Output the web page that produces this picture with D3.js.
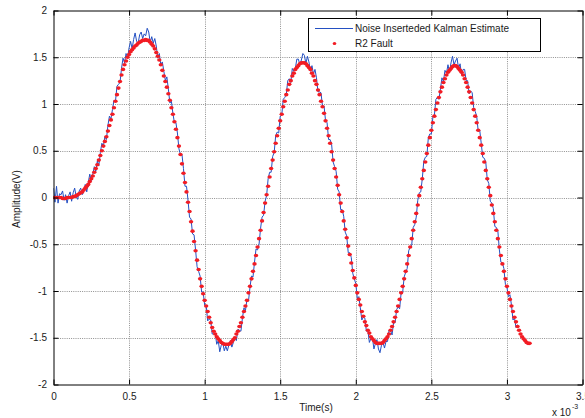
<!DOCTYPE html>
<html>
<head>
<meta charset="utf-8">
<script src="https://cdn.jsdelivr.net/npm/d3@7"></script>
<style>
  html, body { margin: 0; padding: 0; background: #fff; }
  svg { display: block; }
  text { font-family: "Liberation Sans", Arial, sans-serif; }
</style>
</head>
<body>
<svg id="chart" width="585" height="418"></svg>
<script>
// ---------------- data ----------------
const sampleInterval = 1e-5; // seconds between samples

const seriesNames = ["Noise Inserteded Kalman Estimate", "R2 Fault"];

// R2 Fault (red markers), one value per sample from t = 0
const r2Fault = [
  0,0,0,0,0,0,-0.01,-0.01,-0.01,0,
  0,0,0,0.01,0.01,0.02,0.03,0.04,0.05,0.06,
  0.08,0.10,0.12,0.14,0.17,0.20,0.23,0.27,0.31,0.35,
  0.40,0.45,0.50,0.55,0.60,0.65,0.71,0.77,0.83,0.89,
  0.96,1.03,1.10,1.17,1.24,1.31,1.37,1.42,1.46,1.50,
  1.53,1.56,1.58,1.60,1.62,1.63,1.65,1.66,1.67,1.68,
  1.68,1.69,1.68,1.68,1.66,1.64,1.62,1.59,1.55,1.51,
  1.47,1.42,1.36,1.30,1.24,1.18,1.11,1.04,0.96,0.89,
  0.81,0.73,0.64,0.55,0.46,0.36,0.26,0.16,0.06,-0.05,
  -0.15,-0.26,-0.36,-0.47,-0.57,-0.67,-0.77,-0.87,-0.95,-1.03,
  -1.10,-1.16,-1.22,-1.28,-1.34,-1.39,-1.43,-1.46,-1.49,-1.51,
  -1.53,-1.55,-1.56,-1.57,-1.57,-1.57,
  -1.57,-1.56,-1.54,-1.52,-1.50,-1.46,-1.43,-1.38,-1.34,-1.28,
  -1.22,-1.16,-1.10,-1.02,-0.95,-0.87,-0.79,-0.71,-0.62,-0.53,
  -0.44,-0.35,-0.25,-0.16,-0.06,0.03,0.12,0.22,0.31,0.40,
  0.49,0.58,0.66,0.74,0.82,0.89,0.97,1.03,1.10,1.15,
  1.21,1.25,1.30,1.33,1.37,1.39,1.41,1.43,1.44,1.44,
  1.44,1.43,1.41,1.39,1.37,1.33,1.30,1.25,1.21,1.15,
  1.10,1.03,0.97,0.90,0.82,0.74,0.66,0.58,0.49,0.40,
  0.31,0.22,0.13,0.03,-0.06,-0.15,-0.25,-0.34,-0.43,-0.52,
  -0.61,-0.70,-0.78,-0.86,-0.94,-1.02,-1.09,-1.15,-1.22,-1.27,
  -1.33,-1.37,-1.42,-1.45,-1.49,-1.51,-1.53,-1.55,-1.56,-1.56,
  -1.56,
  -1.56,-1.55,-1.53,-1.51,-1.49,-1.46,-1.42,-1.38,-1.33,-1.28,
  -1.22,-1.16,-1.09,-1.02,-0.95,-0.87,-0.79,-0.71,-0.62,-0.53,
  -0.44,-0.35,-0.26,-0.17,-0.08,0.02,0.11,0.20,0.29,0.38,
  0.47,0.56,0.64,0.72,0.80,0.87,0.94,1.01,1.07,1.13,
  1.18,1.23,1.27,1.31,1.34,1.36,1.38,1.40,1.41,1.41,
  1.40,1.38,1.36,1.34,1.31,1.27,1.23,1.18,1.13,
  1.07,1.01,0.94,0.87,0.80,0.72,0.64,0.56,0.47,0.38,
  0.29,0.20,0.11,0.02,-0.08,-0.17,-0.26,-0.35,-0.44,-0.53,
  -0.62,-0.71,-0.79,-0.87,-0.95,-1.02,-1.09,-1.16,-1.22,-1.28,
  -1.33,-1.38,-1.42,-1.46,-1.49,-1.51,-1.53,-1.55,-1.56,-1.56
];

// Noise inserted Kalman estimate (blue line), one value per sample from t = 0
const kalmanNoisy = [
  0.10,-0.05,0.12,-0.06,0.04,0.03,0.07,-0.03,0.03,-0.06,0.02,0.06,-0.04,0.05,0.10,0.01,-0.02,0.07,0.10,0.03,
  0.06,0.14,0.06,0.16,0.25,0.18,0.25,0.33,0.28,0.39,0.34,0.48,0.58,0.55,0.65,0.62,0.77,0.87,0.84,0.94,
  1.04,1.03,1.19,1.21,1.23,1.38,1.49,1.44,1.54,1.49,1.60,1.67,1.59,1.69,1.76,1.67,1.65,1.74,1.77,1.70,
  1.75,1.73,1.81,1.77,1.66,1.72,1.65,1.70,1.62,1.49,1.54,1.42,1.45,1.35,1.25,1.29,1.16,1.01,1.03,0.90,
  0.80,0.80,0.69,0.52,0.46,0.46,0.31,0.12,0.12,-0.03,-0.21,-0.23,-0.39,-0.40,-0.56,-0.74,-0.79,-0.84,-1.01,-1.01,
  -1.15,-1.15,-1.32,-1.30,-1.31,-1.46,-1.46,-1.45,-1.57,-1.53,-1.65,-1.58,-1.55,-1.64,-1.59,-1.64,-1.58,-1.53,-1.60,-1.55,
  -1.50,-1.53,-1.41,-1.42,-1.43,-1.29,-1.18,-1.21,-1.09,-1.11,-0.96,-0.84,-0.85,-0.69,-0.55,-0.56,-0.50,-0.33,-0.21,-0.19,
  -0.04,0.02,0.20,0.27,0.27,0.44,0.48,0.66,0.70,0.69,0.87,0.88,1.05,1.07,1.10,1.25,1.27,1.23,1.38,1.35,
  1.38,1.48,1.48,1.42,1.47,1.54,1.52,1.43,1.51,1.45,1.35,1.41,1.32,1.37,1.28,1.13,1.13,1.12,0.97,0.98,
  0.82,0.80,0.62,0.62,0.57,0.38,0.33,0.28,0.09,0.06,-0.13,-0.13,-0.20,-0.37,-0.41,-0.59,-0.59,-0.64,-0.81,-0.87,
  -0.92,-1.08,-1.06,-1.18,-1.31,-1.28,-1.29,-1.43,-1.42,-1.55,-1.51,-1.50,-1.62,-1.56,-1.52,-1.62,-1.66,-1.58,-1.55,-1.61,
  -1.54,-1.54,-1.42,-1.42,-1.47,-1.34,-1.34,-1.20,-1.17,-1.19,-1.02,-1.02,-0.85,-0.80,-0.76,-0.57,-0.53,-0.51,-0.32,-0.29,
  -0.21,-0.03,0.05,0.06,0.20,0.39,0.43,0.44,0.64,0.68,0.68,0.86,0.88,1.05,1.07,1.05,1.16,1.28,1.24,1.36,
  1.33,1.42,1.34,1.44,1.51,1.42,1.46,1.49,1.38,1.43,1.31,1.37,1.37,1.25,1.25,1.11,1.14,1.12,0.96,0.92,
  0.87,0.71,0.72,0.58,0.43,0.42,0.38,0.19,0.15,-0.04,-0.06,-0.12,-0.31,-0.32,-0.36,-0.56,-0.69,-0.70,-0.76,-0.93,
  -0.96,-1.06,-1.04,-1.15,-1.31,-1.29,-1.39,-1.36
];

const xTickValues = [0, 0.5e-3, 1e-3, 1.5e-3, 2e-3, 2.5e-3, 3e-3, 3.5e-3];
const xTickLabels = ["0", "0.5", "1", "1.5", "2", "2.5", "3", "3.5"];
const yTickValues = [-2, -1.5, -1, -0.5, 0, 0.5, 1, 1.5, 2];
const yTickLabels = ["-2", "-1.5", "-1", "-0.5", "0", "0.5", "1", "1.5", "2"];
const xLabel = "Time(s)";
const yLabel = "Amplitude(V)";
const xExponent = "-3";

// ---------------- layout ----------------
const L = 53.5, R = 582.5, T = 10.5, B = 384.5;
const svg = d3.select("#chart");
const x = d3.scaleLinear().domain([0, 3.5e-3]).range([L, R]);
const y = d3.scaleLinear().domain([-2, 2]).range([B, T]);
const textColor = "#1a1a1a";
const blue = "#2450c2", red = "#f21c24";

// grid
const grid = svg.append("g").attr("stroke", "#909090").attr("stroke-width", 1)
  .attr("stroke-dasharray", "1,1.2");
grid.selectAll("line.vx").data(xTickValues.slice(1, -1)).join("line")
  .attr("x1", d => Math.round(x(d)) + 0.5).attr("x2", d => Math.round(x(d)) + 0.5)
  .attr("y1", T).attr("y2", B);
grid.selectAll("line.hy").data(yTickValues.slice(1, -1)).join("line")
  .attr("y1", d => Math.round(y(d)) + 0.5).attr("y2", d => Math.round(y(d)) + 0.5)
  .attr("x1", L).attr("x2", R);

// data
svg.append("defs").append("clipPath").attr("id", "plotclip")
  .append("rect").attr("x", L).attr("y", T).attr("width", R - L).attr("height", B - T);
const plot = svg.append("g").attr("clip-path", "url(#plotclip)");

const blueLine = d3.line()
  .x((d, i) => x(i * sampleInterval))
  .y(d => y(d));
plot.append("path").datum(kalmanNoisy)
  .attr("d", blueLine)
  .attr("fill", "none").attr("stroke", blue).attr("stroke-width", 1);

plot.selectAll("ellipse.r2").data(r2Fault).join("ellipse")
  .attr("class", "r2")
  .attr("cx", (d, i) => x(i * sampleInterval))
  .attr("cy", d => y(d))
  .attr("rx", 2.2).attr("ry", 1.8)
  .attr("fill", red);

// axes
const fmtX = d => xTickLabels[xTickValues.indexOf(d)];
const fmtY = d => yTickLabels[yTickValues.indexOf(d)];
function styleAxis(g) {
  g.select(".domain").attr("stroke", "#000");
  g.selectAll(".tick line").attr("stroke", "#000");
  g.selectAll("text").attr("fill", textColor).attr("font-size", 10)
    .attr("font-family", '"Liberation Sans", Arial, sans-serif');
}
svg.append("g").attr("transform", `translate(0,${B})`)
  .call(d3.axisBottom(x).tickValues(xTickValues).tickFormat(fmtX)
    .tickSizeInner(-5).tickSizeOuter(0).tickPadding(8))
  .call(styleAxis);
svg.append("g").attr("transform", `translate(0,${T})`)
  .call(d3.axisTop(x).tickValues(xTickValues).tickFormat(() => "")
    .tickSizeInner(-5).tickSizeOuter(0))
  .call(styleAxis);
svg.append("g").attr("transform", `translate(${L},0)`)
  .call(d3.axisLeft(y).tickValues(yTickValues).tickFormat(fmtY)
    .tickSizeInner(-5).tickSizeOuter(0).tickPadding(6.5))
  .call(styleAxis);
svg.append("g").attr("transform", `translate(${R},0)`)
  .call(d3.axisRight(y).tickValues(yTickValues).tickFormat(() => "")
    .tickSizeInner(-5).tickSizeOuter(0))
  .call(styleAxis);

// axis labels
svg.append("text").attr("x", 316).attr("y", 411).attr("text-anchor", "middle")
  .attr("font-size", 10).attr("fill", textColor).text(xLabel);
svg.append("text").attr("transform", "translate(20,199) rotate(-90)")
  .attr("text-anchor", "middle").attr("font-size", 10).attr("fill", textColor).text(yLabel);
const expText = svg.append("text").attr("x", 552).attr("y", 416)
  .attr("font-size", 10).attr("fill", textColor);
expText.append("tspan").text("x 10");
expText.append("tspan").attr("font-size", 7).attr("dy", -7).attr("dx", 1).text(xExponent);

// legend
const lg = svg.append("g");
lg.append("rect").attr("x", 308.5).attr("y", 18.5).attr("width", 232).attr("height", 33)
  .attr("fill", "#fff").attr("stroke", "#000").attr("stroke-width", 1);
lg.append("line").attr("x1", 315).attr("x2", 353).attr("y1", 28.5).attr("y2", 28.5)
  .attr("stroke", blue).attr("stroke-width", 1);
lg.append("ellipse").attr("cx", 334.5).attr("cy", 43.5).attr("rx", 1.8).attr("ry", 1.5).attr("fill", red);
lg.append("text").attr("x", 355).attr("y", 32).attr("font-size", 10).attr("fill", textColor)
  .text(seriesNames[0]);
lg.append("text").attr("x", 355).attr("y", 47).attr("font-size", 10).attr("fill", textColor)
  .text(seriesNames[1]);
</script>
</body>
</html>
